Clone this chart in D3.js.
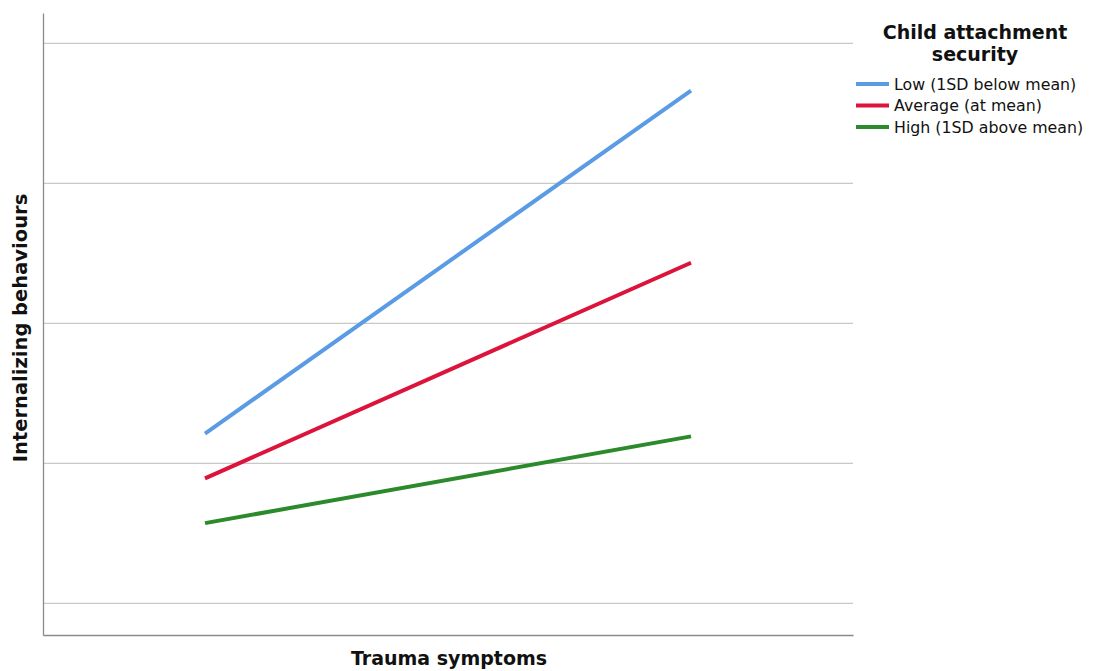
<!DOCTYPE html>
<html>
<head>
<meta charset="utf-8">
<script src="https://cdn.jsdelivr.net/npm/d3@7"></script>
<style>
  body { margin: 0; background: #fff; }
  svg { display: block; font-family: "DejaVu Sans", Verdana, sans-serif; }
</style>
</head>
<body>
<svg id="chart"></svg>
<script>
// data (y in arbitrary units, x = trauma -1SD / +1SD)
const traumaLevels = [-1, 1];
const seriesNames = ["Low (1SD below mean)", "Average (at mean)", "High (1SD above mean)"];
const lowValues = [2.21, 4.66];
const averageValues = [1.89, 3.43];
const highValues = [1.57, 2.19];
const gridValues = [1, 2, 3, 4, 5];
const seriesColors = ["#5a9be5", "#dc143c", "#2b8a2b"];

const width = 1097;
const height = 671;
const margin = { top: 13, bottom: 36, left: 43, right: 244 };

const svg = d3.select('#chart')
  .attr('width', width)
  .attr('height', height);

// x scale, points sit at 20% / 80% of the plot
const x = d3.scaleLinear()
  .domain([-5 / 3, 5 / 3])
  .range([margin.left, width - margin.right]);

const y = d3.scaleLinear()
  .domain([0.771, 5.214])
  .range([height - margin.bottom, margin.top]);

//gridlines
svg.append("g")
  .attr("transform", `translate(${margin.left},0)`)
  .call(d3.axisLeft(y).tickValues(gridValues).tickSize(-(width - margin.right - margin.left)).tickFormat(""))
  .call(g => g.select(".domain").remove())
  .call(g => g.selectAll(".tick line").attr("stroke", "#c8c8c8").attr("stroke-width", 1.3));

//axis lines
svg.append("g")
  .attr("transform", `translate(${margin.left},0)`)
  .call(d3.axisLeft(y).tickValues([]).tickSizeOuter(0))
  .call(g => g.select(".domain").attr("stroke", "#8a8a8a").attr("stroke-width", 1.3));

svg.append("g")
  .attr("transform", `translate(0,${height - margin.bottom})`)
  .call(d3.axisBottom(x).tickValues([]).tickSizeOuter(0))
  .call(g => g.select(".domain").attr("stroke", "#8a8a8a").attr("stroke-width", 1.3));

// lines
const series = [lowValues, averageValues, highValues];
const line = d3.line()
  .x((d, i) => x(traumaLevels[i]))
  .y(d => y(d));

svg.append("g")
  .selectAll("path")
  .data(series)
  .join("path")
    .attr("d", d => line(d))
    .attr("fill", "none")
    .attr("stroke", (d, i) => seriesColors[i])
    .attr("stroke-width", 4);

// axis titles
svg.append("text")
  .attr("x", 449)
  .attr("y", 665)
  .attr("text-anchor", "middle")
  .attr("font-weight", "bold")
  .attr("font-size", "19px")
  .attr("fill", "#111")
  .text("Trauma symptoms");

svg.append("text")
  .attr("transform", `translate(27,328) rotate(-90)`)
  .attr("text-anchor", "middle")
  .attr("font-weight", "bold")
  .attr("font-size", "19.5px")
  .attr("fill", "#111")
  .text("Internalizing behaviours");

// legend
const legend = svg.append("g");
legend.append("text")
  .attr("x", 975)
  .attr("text-anchor", "middle")
  .attr("font-weight", "bold")
  .attr("font-size", "19px")
  .attr("fill", "#111")
  .selectAll("tspan")
  .data(["Child attachment", "security"])
  .join("tspan")
    .attr("x", 975)
    .attr("y", (d, i) => 39 + i * 22)
    .text(d => d);

const items = legend.selectAll(".item")
  .data(seriesNames)
  .join("g")
    .attr("class", "item")
    .attr("transform", (d, i) => `translate(856,${84 + i * 21.5})`);

items.append("line")
  .attr("x1", 0).attr("x2", 33)
  .attr("stroke", (d, i) => seriesColors[i])
  .attr("stroke-width", 4);

items.append("text")
  .attr("x", 38)
  .attr("dy", "0.35em")
  .attr("font-size", "15.8px")
  .attr("fill", "#111")
  .text(d => d);
</script>
</body>
</html>
